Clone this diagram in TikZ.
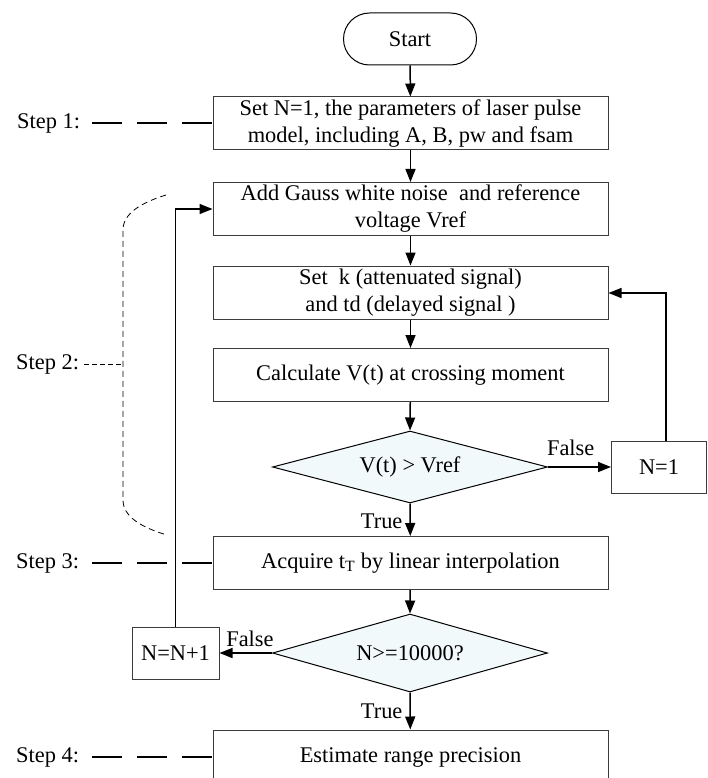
\documentclass[tikz,border=0pt]{standalone}
\usepackage{fontspec}
\setmainfont{Liberation Serif}
\usetikzlibrary{shapes.geometric,arrows.meta}
\definecolor{dfill}{RGB}{242,249,251}
\definecolor{bline}{RGB}{60,60,60}
\tikzset{
  txt/.style={font=\fontsize{22.4}{27}\selectfont},
  stepbox/.style={txt, draw=bline, line width=1pt, fill=white, minimum width=395pt, minimum height=53pt, align=center, inner sep=2pt},
  smallbox/.style={txt, draw=bline, line width=1pt, fill=white, minimum height=52pt, align=center, inner sep=2pt},
  decision/.style={txt, draw=black, line width=1pt, fill=dfill, shape=diamond, inner sep=0pt, minimum width=275pt},
  termbox/.style={txt, draw=black, line width=1pt, rounded corners=26pt, minimum width=133pt, minimum height=52pt},
  conn/.style={line width=1.5pt, -{Triangle[length=13pt,width=10pt]}},
  lbl/.style={txt, inner sep=1pt},
  steplbl/.style={txt, anchor=west, inner sep=0pt},
  longdash/.style={line width=1.5pt, dash pattern=on 30pt off 15pt},
  shortdash/.style={line width=0.8pt, dash pattern=on 6pt off 4pt}
}
\begin{document}
\begin{tikzpicture}[x=1pt,y=-1pt]
\clip (0,0) rectangle (707,778);
\fill[white] (0,0) rectangle (707,778);

\node[termbox] (start) at (410,39) {Start};
\node[stepbox] (b1) at (410.5,123.5) {Set N=1, the parameters of laser pulse\\model, including A, B, pw and fsam};
\node[stepbox] (b2) at (410.5,209) {Add Gauss white noise\ \ and reference\\voltage Vref};
\node[stepbox] (b3) at (410.5,292.5) {Set\ \ k (attenuated signal)\\and td (delayed signal )};
\node[stepbox] (b4) at (410.5,375) {Calculate V(t) at crossing moment};
\node[decision, aspect=3.8, minimum height=72pt] (d1) at (410,467) {V(t) > Vref};
\node[smallbox, minimum width=95pt] (n1) at (659,467) {N=1};
\node[stepbox] (b5) at (410.5,563) {Acquire t\textsubscript{T} by linear interpolation};
\node[decision, aspect=3.5, minimum height=78pt] (d2) at (410,653) {N>=10000?};
\node[smallbox, minimum width=87pt] (nn) at (175.5,653) {N=N+1};
\node[stepbox, minimum height=54pt] (b6) at (410.5,757) {Estimate range precision};

% main flow
\draw[conn] (start) -- (b1);
\draw[conn] (b1) -- (b2);
\draw[conn] (b2) -- (b3);
\draw[conn] (b3) -- (b4);
\draw[conn] (b4) -- (d1.north);
\draw[conn] (d1.south) -- node[lbl, left=6pt, pos=0.55] {True} (b5);
\draw[conn] (b5) -- (d2.north);
\draw[conn] (d2.south) -- node[lbl, left=6pt, pos=0.5] {True} (b6);

% false branches
\draw[conn] (d1.east) -- node[lbl, above=10pt, pos=0.36] {False} (n1.west);
\coordinate (r1) at (666,293);
\draw[conn] (n1.north -| r1) -- (r1) -- (r1 -| b3.east);
\draw[conn] (d2.west) -- node[lbl, above=5pt, pos=0.42] {False} (nn.east);
\coordinate (l1) at (175.5,209);
\draw[conn] (nn.north) -- (l1) -- (l1 -| b2.west);

% step labels
\node[steplbl] (s1) at (17,123) {Step 1:};
\node[steplbl] (s2) at (16,364) {Step 2:};
\node[steplbl] (s3) at (16,563) {Step 3:};
\node[steplbl] (s4) at (16,757) {Step 4:};
\coordinate (s1a) at (92,123);
\coordinate (s3a) at (92,563);
\coordinate (s4a) at (92,757);
\draw[longdash] (s1a) -- (s1a -| b1.west);
\draw[longdash] (s3a) -- (s3a -| b5.west);
\draw[longdash] (s4a) -- (s4a -| b6.west);
\coordinate (s2a) at (84,364);
\coordinate (s2b) at (123,364);
\draw[line width=1pt, dash pattern=on 5pt off 3pt] (s2a) -- (s2b);
\coordinate (brt) at (166,195);
\coordinate (brb) at (167,535);
\draw[shortdash] (brt) .. controls (140,203) and (123,214) .. (123,230) -- (123,500) .. controls (123,516) and (140,527) .. (brb);
\end{tikzpicture}
\end{document}
